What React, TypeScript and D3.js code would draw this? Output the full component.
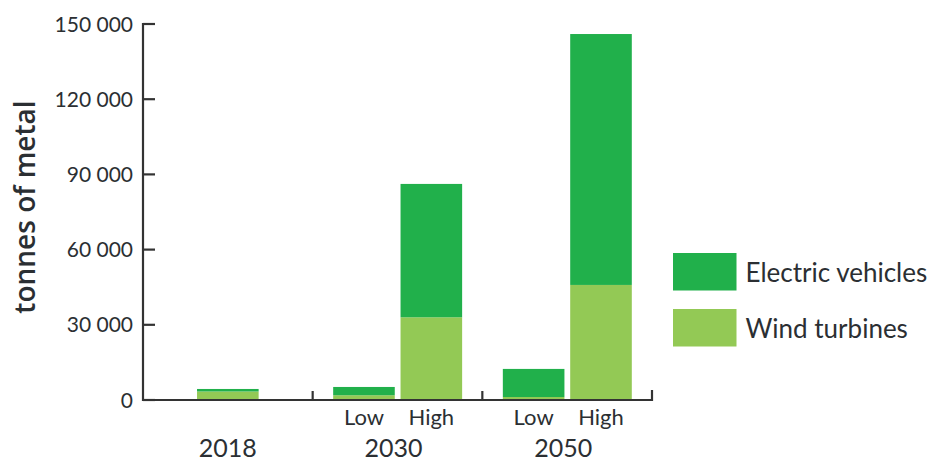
import React from "react";
import * as d3 from "d3";

const years = ["2018", "2030", "2050"];
const scenarios: Record<string, string[]> = {
  "2018": [""],
  "2030": ["Low", "High"],
  "2050": ["Low", "High"],
};
const barYears = ["2018", "2030", "2030", "2050", "2050"];
const barScenarios = ["", "Low", "High", "Low", "High"];
const windTurbines = [3400, 1900, 33000, 1200, 45900];
const electricVehicles = [1000, 3300, 53200, 11200, 100100];
const yTicks = [0, 30000, 60000, 90000, 120000, 150000];
const seriesNames = ["Electric vehicles", "Wind turbines"];
const seriesColors = ["#21b04b", "#93c955"];

const W = 929;
const H = 463;
const FONT = "Lato, 'Open Sans', sans-serif";
const TEXT = "#2b2f33";
const AXIS = "#333";

export default function App() {
  const x0 = 143;
  const x1 = 652;
  const y = d3.scaleLinear().domain([0, 150000]).range([400, 24]);
  const groups = d3.scaleBand<string>().domain(years).range([x0, x1]).padding(0);
  const fmt = d3
    .formatLocale({ decimal: ".", thousands: " ", grouping: [3], currency: ["", ""] })
    .format(",");

  const barWidth = 61.6;
  const barX = (i: number) => {
    const g = barYears[i];
    const gx = groups(g)!;
    const bw = groups.bandwidth();
    const subs = scenarios[g];
    if (subs.length === 1) return gx + bw / 2 - barWidth / 2;
    const sub = d3
      .scaleBand<string>()
      .domain(subs)
      .range([gx + 20.5, gx + bw - 20.5])
      .paddingInner(0.09);
    return sub(barScenarios[i])!;
  };

  const stackData = barYears.map((_, i) => ({
    i,
    wind: windTurbines[i],
    ev: electricVehicles[i],
  }));
  const stack = d3.stack<any>().keys(["wind", "ev"])(stackData as any);
  const colorFor = (k: string) => (k === "ev" ? seriesColors[0] : seriesColors[1]);

  return (
    <svg
      width={W}
      height={H}
      style={{ position: "absolute", left: 0, top: 0, background: "#fff" }}
      fontFamily={FONT}
    >
      {/* bars */}
      {stack.map((layer) => (
        <g key={layer.key} fill={colorFor(layer.key)}>
          {layer.map((d, j) => (
            <rect
              key={j}
              x={barX(j)}
              width={barWidth}
              y={y(d[1])}
              height={y(d[0]) - y(d[1])}
            />
          ))}
        </g>
      ))}

      {/* y axis */}
      <line x1={x0} x2={x0} y1={y(150000) - 1} y2={y(0) + 1} stroke={AXIS} strokeWidth={2.2} />
      {yTicks.map((t) => (
        <g key={t}>
          <line x1={x0} x2={x0 + 12} y1={y(t)} y2={y(t)} stroke={AXIS} strokeWidth={2.2} />
          <text
            x={133}
            y={y(t)}
            dy="0.36em"
            textAnchor="end"
            fontSize={21}
            fill={TEXT}
          >
            {fmt(t)}
          </text>
        </g>
      ))}

      {/* x axis */}
      <line x1={x0 - 1} x2={x1 + 1} y1={y(0)} y2={y(0)} stroke={AXIS} strokeWidth={2.2} />
      {years.slice(1).map((g) => (
        <line
          key={g}
          x1={groups(g)!}
          x2={groups(g)!}
          y1={y(0)}
          y2={y(0) - 9}
          stroke={AXIS}
          strokeWidth={2.2}
        />
      ))}
      <line x1={x1} x2={x1} y1={y(0) + 1} y2={y(0) - 10} stroke={AXIS} strokeWidth={2.2} />

      {/* scenario labels */}
      {barScenarios.map((s, i) =>
        s ? (
          <text
            key={i}
            x={barX(i) + barWidth / 2}
            y={425}
            textAnchor="middle"
            fontSize={22}
            fill={TEXT}
          >
            {s}
          </text>
        ) : null
      )}

      {/* year labels */}
      {years.map((g) => (
        <text
          key={g}
          x={groups(g)! + groups.bandwidth() / 2 - (g === "2018" ? 0 : 4)}
          y={457}
          textAnchor="middle"
          fontSize={25}
          fill={TEXT}
        >
          {g}
        </text>
      ))}

      {/* y axis title */}
      <text
        transform={`translate(35, 207) rotate(-90)`}
        textAnchor="middle"
        fontSize={28}
        fontWeight={600}
        fontFamily="'Open Sans', Lato, sans-serif"
        fill={TEXT}
      >
        tonnes of metal
      </text>

      {/* legend */}
      {seriesNames.map((n, i) => (
        <g key={n} transform={`translate(673, ${253 + i * 56})`}>
          <rect width={63.5} height={37.5} fill={seriesColors[i]} />
          <text x={72.5} y={28.5} fontSize={26} fill={TEXT}>
            {n}
          </text>
        </g>
      ))}
    </svg>
  );
}
